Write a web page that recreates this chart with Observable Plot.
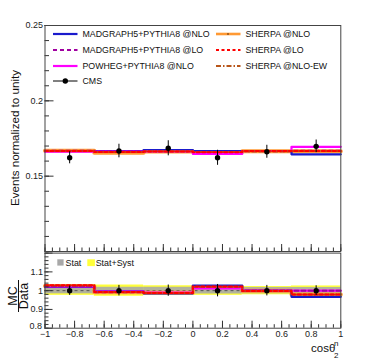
<!DOCTYPE html>
<html><head><meta charset="utf-8">
<script src="https://cdn.jsdelivr.net/npm/d3@7"></script>
<script src="https://cdn.jsdelivr.net/npm/@observablehq/plot@0.6"></script>
<style>
body{margin:0;background:#fff;}
#chart{position:relative;width:370px;height:360px;font-family:"Liberation Sans",Arial,sans-serif;}
#chart > svg{position:absolute;left:0;}
</style>
</head><body><div id="chart"></div>
<script>
// ---- data ----
const binEdges = [-1, -2/3, -1/3, 0, 1/3, 2/3, 1];
const binCenters = [-5/6, -1/2, -1/6, 1/6, 1/2, 5/6];
const seriesNames = ["MADGRAPH5+PYTHIA8 @NLO", "MADGRAPH5+PYTHIA8 @LO", "POWHEG+PYTHIA8 @NLO", "SHERPA @NLO", "SHERPA @LO", "SHERPA @NLO-EW"];
const seriesColors = ["#1a1acc", "#a000a0", "#ff00ff", "#ff9933", "#ff0000", "#b8561a"];
const dataName = "CMS";

// top pane: normalized distributions
const mg5NLO    = [0.1667, 0.1667, 0.1673, 0.1667, 0.1667, 0.1645];
const mg5LO     = [0.1668, 0.1663, 0.1665, 0.1660, 0.1665, 0.1668];
const powhegNLO = [0.1662, 0.1663, 0.1665, 0.1647, 0.1667, 0.1695];
const sherpaNLO = [0.1668, 0.1656, 0.1664, 0.1660, 0.1666, 0.1665];
const sherpaLO  = [0.1667, 0.1660, 0.1663, 0.1658, 0.1667, 0.1667];
const sherpaEW  = [0.1667, 0.1660, 0.1665, 0.1660, 0.1665, 0.1667];
const cmsData   = [0.1622, 0.1667, 0.1685, 0.1622, 0.1662, 0.1698];
const cmsErr    = [0.0040, 0.0045, 0.0050, 0.0050, 0.0043, 0.0042];

// bottom pane: MC / Data
const rMg5NLO    = [1.020, 0.996, 0.986, 1.027, 1.000, 0.967];
const rMg5LO     = [1.024, 0.992, 0.988, 1.020, 1.000, 1.000];
const rPowhegNLO = [1.022, 0.995, 0.990, 1.012, 1.000, 1.000];
const rSherpaNLO = [1.025, 0.991, 0.989, 1.020, 1.000, 0.980];
const rSherpaLO  = [1.029, 0.993, 0.988, 1.022, 0.998, 0.979];
const rSherpaEW  = [1.027, 0.993, 0.988, 1.021, 1.000, 0.980];
const rDataErr   = [0.025, 0.028, 0.030, 0.033, 0.028, 0.026];
const statErr    = [0.017, 0.018, 0.018, 0.018, 0.017, 0.017];
const totErr     = [0.025, 0.030, 0.026, 0.025, 0.022, 0.025];

// ticks
const xTickValues = [-1, -0.8, -0.6, -0.4, -0.2, 0, 0.2, 0.4, 0.6, 0.8, 1];
const xTickLabels = ["\u22121", "\u22120.8", "\u22120.6", "\u22120.4", "\u22120.2", "0", "0.2", "0.4", "0.6", "0.8", "1"];
const topYTickValues = [0.15, 0.2, 0.25];
const topYTickLabels = ["0.15", "0.2", "0.25"];
const botYTickValues = [0.9, 1, 1.1];
const botYTickLabels = ["0.9", "1", "1.1"];
const botYLowValue = [0.8];
const botYLowLabel = ["0.8"];

// ---- helpers ----
const topSeries = [mg5NLO, mg5LO, powhegNLO, sherpaNLO, sherpaLO, sherpaEW];
const botSeries = [rMg5NLO, rMg5LO, rPowhegNLO, rSherpaNLO, rSherpaLO, rSherpaEW];
const styles = [
  {strokeWidth: 2.2},
  {strokeWidth: 2, strokeDasharray: "4,3"},
  {strokeWidth: 2.2},
  {strokeWidth: 4},
  {strokeWidth: 2, strokeDasharray: "3,2.5"},
  {strokeWidth: 2, strokeDasharray: "5,2,1.5,2"}
];
const drawOrder = [3, 0, 2, 1, 5, 4];
function steps(vals) { return binEdges.map((x, i) => ({x, y: vals[Math.min(i, vals.length - 1)]})); }
function lineMarks(series) {
  return drawOrder.map(k => Plot.line(steps(series[k]), {x: "x", y: "y", curve: "step-after", stroke: seriesColors[k], ...styles[k]}));
}
const minor = (a, b, s) => d3.range(Math.round((b - a) / s) + 1).map(i => +(a + i * s).toFixed(4));
const fontFamily = "'Liberation Sans', Arial, sans-serif";
const W = 370, ML = 44.5, MR = 29.7;
const fmtFrom = (vals, labels) => d => labels[vals.findIndex(v => Math.abs(v - d) < 1e-9)] ?? "";
const blank = () => "";

function xTicks() {
  return [
    Plot.axisX(minor(-1, 1, 0.05), {anchor: "bottom", tickSize: -3.5, tickFormat: blank, label: null, stroke: "#333"}),
    Plot.axisX(xTickValues, {anchor: "bottom", tickSize: -7, tickFormat: blank, label: null, stroke: "#333"})
  ];
}

const chart = document.getElementById("chart");

// ---- top pane ----
const cms = binCenters.map((x, i) => ({x, y: cmsData[i], lo: cmsData[i] - cmsErr[i], hi: cmsData[i] + cmsErr[i]}));
const topPlot = Plot.plot({
  width: W, height: 252, marginTop: 25, marginBottom: 1, marginLeft: ML, marginRight: MR,
  style: {fontFamily, fontSize: "9px", background: "transparent", color: "#222", overflow: "visible"},
  x: {domain: [-1, 1], axis: null},
  y: {domain: [0.1, 0.25], axis: null},
  marks: [
    ...lineMarks(topSeries),
    Plot.ruleX(cms, {x: "x", y1: "lo", y2: "hi", stroke: "#000", strokeWidth: 1}),
    Plot.dot(cms, {x: "x", y: "y", r: 2.7, fill: "#000", stroke: "none"}),
    Plot.axisY(minor(0.1, 0.25, 0.01), {anchor: "left", tickSize: -4.5, tickFormat: blank, label: null, stroke: "#333"}),
    Plot.axisY([0.1, 0.15, 0.2, 0.25], {anchor: "left", tickSize: -9, tickFormat: blank, label: null, stroke: "#333"}),
    Plot.axisY(topYTickValues, {anchor: "left", tickSize: 0, tickPadding: 2, tickFormat: fmtFrom(topYTickValues, topYTickLabels), label: null, fill: "#222"}),
    ...xTicks(),
    Plot.frame({stroke: "#444", strokeWidth: 1})
  ]
});
topPlot.style.top = "0px";
chart.appendChild(topPlot);

// ---- bottom pane ----
const bands = binEdges.slice(0, -1).map((x1, i) => ({x1, x2: binEdges[i + 1], s1: 1 - statErr[i], s2: 1 + statErr[i], t1: 1 - totErr[i], t2: 1 + totErr[i]}));
const rData = binCenters.map((x, i) => ({x, y: 1, lo: 1 - rDataErr[i], hi: 1 + rDataErr[i]}));
const botPlot = Plot.plot({
  width: W, height: 109, marginTop: 1.6, marginBottom: 32.3, marginLeft: ML, marginRight: MR,
  style: {fontFamily, fontSize: "9px", background: "transparent", color: "#222", overflow: "visible"},
  x: {domain: [-1, 1], axis: null},
  y: {domain: [0.8, 1.2], axis: null},
  marks: [
    Plot.rect(bands, {x1: "x1", x2: "x2", y1: "t1", y2: "t2", fill: "#ffff3a"}),
    Plot.rect(bands, {x1: "x1", x2: "x2", y1: "s1", y2: "s2", fill: "#b2b29c"}),
    Plot.ruleY([1], {stroke: "#555", strokeWidth: 1, strokeDasharray: "3,3"}),
    ...lineMarks(botSeries),
    Plot.ruleX(rData, {x: "x", y1: "lo", y2: "hi", stroke: "#000", strokeWidth: 1}),
    Plot.dot(rData, {x: "x", y: "y", r: 2.7, fill: "#000", stroke: "none"}),
    Plot.axisY(minor(0.8, 1.2, 0.02), {anchor: "left", tickSize: -4, tickFormat: blank, label: null, stroke: "#333"}),
    Plot.axisY([0.8, 0.9, 1, 1.1, 1.2], {anchor: "left", tickSize: -8, tickFormat: blank, label: null, stroke: "#333"}),
    Plot.axisY(botYTickValues, {anchor: "left", tickSize: 0, tickPadding: 2, tickFormat: fmtFrom(botYTickValues, botYTickLabels), label: null, fill: "#222"}),
    Plot.axisY(botYLowValue, {anchor: "left", tickSize: 0, tickPadding: 3, dy: -2.5, tickFormat: fmtFrom(botYLowValue, botYLowLabel), label: null, fill: "#222"}),
    ...xTicks(),
    Plot.axisX(xTickValues, {anchor: "bottom", tickSize: 0, tickPadding: 2, tickFormat: fmtFrom(xTickValues, xTickLabels), label: null, fill: "#222"}),
    Plot.frame({stroke: "#444", strokeWidth: 1})
  ]
});
botPlot.style.top = "251px";
chart.appendChild(botPlot);

// ---- overlay: titles & legends ----
const ov = d3.select(chart).append("svg").attr("width", W).attr("height", 360)
  .style("top", "0px").style("pointer-events", "none")
  .attr("font-family", fontFamily).attr("fill", "#111");

ov.append("text").attr("transform", "translate(19,70) rotate(-90)").attr("text-anchor", "end")
  .attr("font-size", 11.6).text("Events normalized to unity");
const rt = ov.append("g").attr("transform", "translate(18.5,296) rotate(-90)");
rt.append("text").attr("text-anchor", "middle").attr("y", -1.5).attr("font-size", 12.5).text("MC");
rt.append("line").attr("x1", -16).attr("x2", 16).attr("y1", 0).attr("y2", 0).attr("stroke", "#111").attr("stroke-width", 1);
rt.append("text").attr("text-anchor", "middle").attr("y", 9.3).attr("font-size", 12.5).text("Data");
const xt = ov.append("text").attr("x", 311).attr("y", 352).attr("font-size", 11.5);
xt.append("tspan").text("cos\u03b8");
ov.append("text").attr("x", 334).attr("y", 346).attr("font-size", 8).text("n");
ov.append("text").attr("x", 334).attr("y", 358).attr("font-size", 8).text("2");

const legPos = [[53, 34], [53, 50], [53, 66], [216, 34], [216, 50], [216, 66]];
seriesNames.forEach((name, k) => {
  const [lx, ly] = legPos[k];
  const s = styles[k];
  ov.append("line").attr("x1", lx).attr("x2", lx + 24.5).attr("y1", ly).attr("y2", ly)
    .attr("stroke", seriesColors[k]).attr("stroke-width", Math.min(s.strokeWidth, 2.6))
    .attr("stroke-dasharray", s.strokeDasharray || null);
  if (k === 3) ov.append("circle").attr("cx", lx + 12).attr("cy", ly).attr("r", 0.9).attr("fill", "#8a4a10");
  ov.append("text").attr("x", lx + 29.5).attr("y", ly + 3.2).attr("font-size", 8.8).text(name);
});
ov.append("line").attr("x1", 53).attr("x2", 77.5).attr("y1", 81).attr("y2", 81).attr("stroke", "#000").attr("stroke-width", 1);
ov.append("circle").attr("cx", 65.3).attr("cy", 81).attr("r", 2.7).attr("fill", "#000");
ov.append("text").attr("x", 82.5).attr("y", 84.2).attr("font-size", 8.8).text(dataName);

ov.append("rect").attr("x", 57.3).attr("y", 259.3).attr("width", 6.3).attr("height", 6.3).attr("fill", "#a8a8a8");
ov.append("text").attr("x", 65.5).attr("y", 265.8).attr("font-size", 8.9).text("Stat");
ov.append("rect").attr("x", 87.3).attr("y", 259.3).attr("width", 7.6).attr("height", 6.8).attr("fill", "#ffff3a");
ov.append("text").attr("x", 95.7).attr("y", 265.8).attr("font-size", 8.9).text("Stat+Syst");
</script>
</body></html>
